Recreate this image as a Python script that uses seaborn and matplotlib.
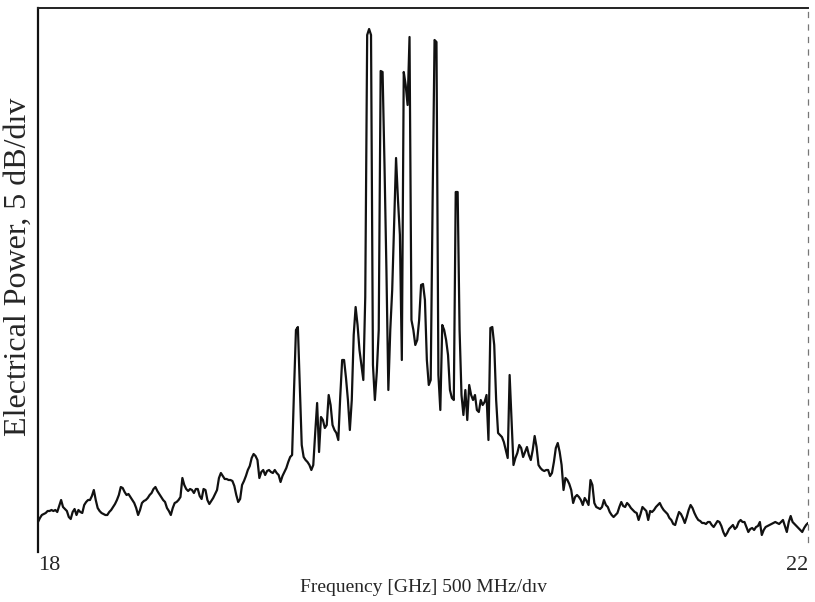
import numpy as np
import pandas as pd
import matplotlib
matplotlib.use("Agg")
import matplotlib.pyplot as plt
import seaborn as sns

# Sweep settings (GHz)
freq_start = 18.0
freq_stop = 22.0
n_points = 401

# Relative electrical power (dB above the plot floor)
power_18_0 = [2.3, 2.7, 3.0, 3.1, 3.2, 3.4, 3.4, 3.5, 3.4, 3.5, 3.3, 3.9, 4.5, 3.8, 3.6, 3.4, 2.8, 2.6, 3.3, 3.6,
              3.0, 3.5, 3.3, 3.2, 4.0, 4.3, 4.5, 4.5, 4.9, 5.5, 4.5, 3.7, 3.4, 3.2, 3.1, 3.0, 3.0, 3.3, 3.5, 3.8,
              4.1, 4.5, 5.0, 5.8, 5.7, 5.3, 5.0, 5.1, 4.8, 4.5, 4.2, 3.7, 3.0, 3.5, 4.2, 4.4, 4.5, 4.7, 5.0, 5.2,
              5.6, 5.8, 5.4, 5.1, 4.8, 4.5, 4.3, 3.7, 3.4, 3.0, 3.7, 4.2, 4.3, 4.5, 4.8, 6.7, 6.0, 5.6, 5.4, 5.6,
              5.5, 5.2, 5.6, 5.6, 4.9, 4.6, 5.6, 5.5, 4.5, 4.1, 4.4, 4.7, 5.1, 5.5, 6.7, 7.2, 6.9, 6.6, 6.6, 6.5]
power_19_0 = [6.5, 6.4, 5.9, 5.0, 4.3, 4.6, 6.0, 6.4, 6.9, 7.5, 7.9, 8.7, 9.1, 8.9, 8.5, 6.7, 7.3, 7.5, 7.0, 7.4,
              7.5, 7.3, 7.2, 7.5, 7.2, 7.0, 6.3, 6.9, 7.3, 7.7, 8.3, 8.8, 9.0, 15.5, 21.5, 21.8, 16.0, 10.0, 8.8, 8.5,
              8.3, 8.0, 7.5, 8.0, 11.2, 14.2, 9.3, 12.8, 12.5, 11.7, 12.0, 15.0, 14.0, 12.0, 11.5, 11.2, 10.5, 14.8, 18.5, 18.5,
              16.7, 14.5, 11.5, 14.5, 21.0, 23.8, 22.0, 19.5, 18.0, 16.5, 24.8, 51.0, 51.6, 51.0, 18.0, 14.5, 17.3, 21.5, 47.4, 47.3,
              38.0, 27.5, 15.5, 21.5, 25.5, 32.0, 38.7, 34.5, 31.0, 18.5, 47.3, 46.0, 44.0, 50.8, 22.5, 21.5, 20.0, 20.5, 22.5, 26.0]
power_20_0 = [26.1, 24.5, 18.5, 16.0, 16.5, 34.5, 50.5, 50.3, 17.0, 13.5, 22.0, 21.5, 20.5, 19.0, 15.5, 14.7, 14.5, 35.3, 35.3, 21.5,
              15.0, 13.0, 15.5, 12.5, 16.0, 15.0, 14.5, 15.0, 13.5, 13.3, 14.5, 14.0, 14.3, 15.0, 10.5, 21.7, 21.8, 20.0, 14.5, 11.2,
              11.0, 10.8, 10.3, 9.5, 8.7, 17.0, 12.5, 8.0, 8.7, 9.2, 10.0, 9.7, 8.8, 9.3, 9.8, 9.0, 8.5, 9.5, 10.9, 9.8,
              8.0, 7.7, 7.5, 7.4, 7.5, 7.5, 6.9, 7.2, 8.3, 9.7, 10.2, 9.3, 8.0, 5.5, 6.7, 6.5, 6.1, 5.5, 4.2, 4.8,
              5.0, 4.8, 4.5, 4.0, 4.7, 4.4, 4.0, 6.5, 6.0, 4.2, 3.8, 3.7, 3.6, 3.8, 4.5, 4.0, 3.8, 3.3, 3.0, 2.8]
power_21_0 = [3.0, 3.2, 3.8, 4.3, 3.9, 3.8, 4.2, 4.0, 3.7, 3.5, 3.3, 3.2, 2.5, 3.1, 3.8, 3.6, 3.4, 2.5, 3.4, 3.3,
              3.5, 3.8, 4.0, 4.2, 3.8, 3.5, 3.3, 3.1, 2.7, 2.5, 2.1, 2.0, 2.7, 3.3, 3.1, 2.7, 2.2, 2.8, 3.5, 4.0,
              3.7, 3.2, 2.8, 2.5, 2.4, 2.2, 2.2, 2.1, 2.3, 2.3, 2.0, 1.8, 2.1, 2.4, 2.3, 1.9, 1.3, 0.9, 1.2, 1.6,
              1.8, 2.0, 1.6, 1.8, 2.3, 2.5, 2.3, 2.3, 1.8, 1.3, 1.6, 1.7, 1.5, 1.8, 1.9, 2.3, 1.0, 1.5, 1.8, 1.9,
              2.0, 2.1, 2.2, 2.3, 2.2, 2.1, 2.3, 2.5, 1.9, 1.3, 2.3, 2.9, 2.3, 2.1, 1.9, 1.7, 1.5, 1.3, 1.7, 2.0,
              2.2]

tick_values = [18, 22]
tick_labels = ["18", "22"]

power = power_18_0 + power_19_0 + power_20_0 + power_21_0
freq = np.linspace(freq_start, freq_stop, n_points)
df = pd.DataFrame({"freq": freq, "power": power})

sns.set_style("white")
plt.rcParams["font.family"] = ["Liberation Serif", "DejaVu Serif"]

fig = plt.figure(figsize=(8.15, 6.02), dpi=100)
ax = fig.add_axes([38 / 815, 1 - 552 / 602, (808 - 38) / 815, (552 - 8) / 602])

sns.lineplot(data=df, x="freq", y="power", ax=ax, color="#111111",
             linewidth=1.6, estimator=None, sort=False)

ax.set_xlim(freq_start, freq_stop)
ax.set_ylim(-0.7, 53.7)

ax.spines["bottom"].set_visible(False)
ax.spines["left"].set_linewidth(1.6)
ax.spines["left"].set_color("#111111")
ax.spines["top"].set_linewidth(1.4)
ax.spines["top"].set_color("#222222")
ax.spines["right"].set_linewidth(0.9)
ax.spines["right"].set_color("#777777")
ax.spines["right"].set_linestyle((0, (4, 6)))
ax.spines["right"].set_bounds(0.3, 53.7)

ax.set_xticks(tick_values)
ax.set_xticklabels(tick_labels, fontsize=16)
ax.set_yticks([])
ax.tick_params(axis="x", length=0, pad=3)
labels = ax.get_xticklabels()
labels[0].set_horizontalalignment("left")
labels[1].set_horizontalalignment("right")

ax.set_xlabel("")
ax.set_ylabel("")
fig.text(423 / 815, 1 - 588 / 602, "Frequency [GHz] 500 MHz/dıv", fontsize=14,
         ha="center", va="center")
fig.text(18 / 815, 1 - 267 / 602, "Electrical Power, 5 dB/dıv", fontsize=23,
         ha="center", va="center", rotation=90)

fig.savefig("out.png", dpi=100)
